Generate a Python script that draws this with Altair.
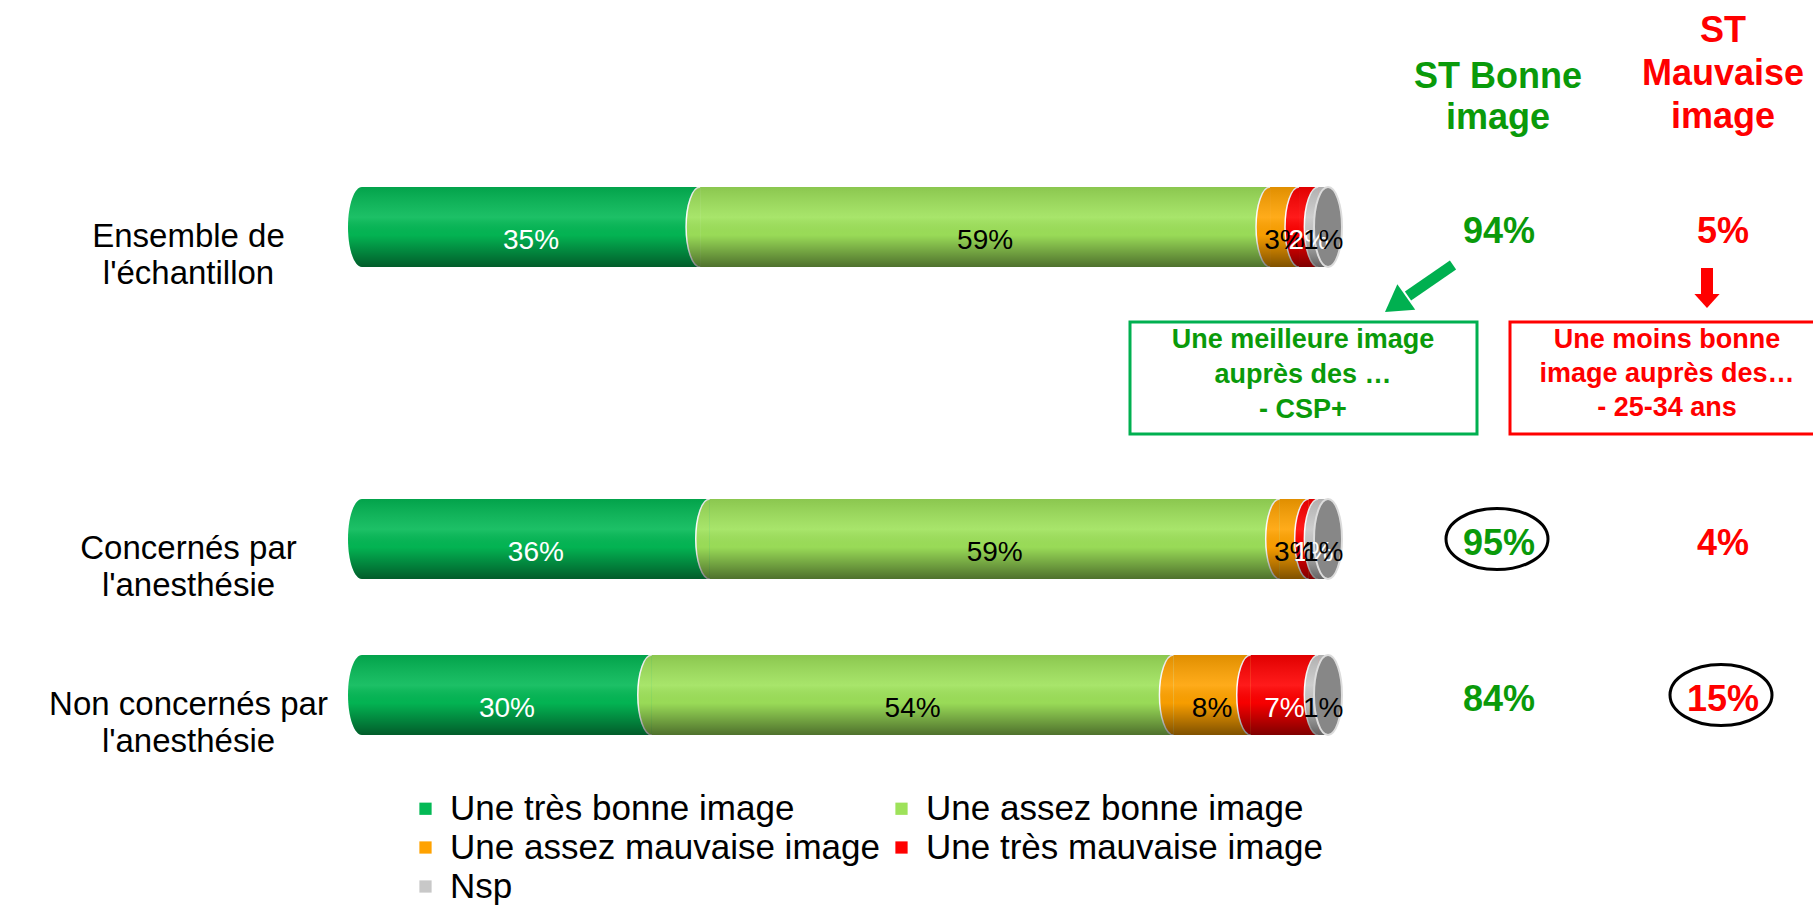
import altair as alt
import pandas as pd

# ---------------- data ----------------
rows = ["Ensemble de\nl'échantillon", "Concernés par\nl'anesthésie", "Non concernés par\nl'anesthésie"]
spacer = " "
row_domain = [rows[0], spacer, rows[1], rows[2]]

series = ["Une très bonne image", "Une assez bonne image", "Une assez mauvaise image",
          "Une très mauvaise image", "Nsp"]
tres_bonne = [35, 36, 30]
assez_bonne = [59, 59, 54]
assez_mauvaise = [3, 3, 8]
tres_mauvaise = [2, 1, 7]
nsp = [1, 1, 1]

st_bonne = [94, 95, 84]
st_mauvaise = [5, 4, 15]
circled_bonne = [False, True, False]
circled_mauvaise = [False, False, True]

header_bonne = "ST Bonne\nimage"
header_mauvaise = "ST\nMauvaise\nimage"
note_bonne = "Une meilleure image\nauprès des …\n- CSP+"
note_mauvaise = "Une moins bonne\nimage auprès des…\n- 25-34 ans"

# ---------------- styles ----------------
FONT = "Liberation Sans"
colors = ["#03b955", "#9ee25a", "#ffa200", "#ff0000", "#c8c8c8"]
GREEN_TXT = "#0a9a0a"
RED_TXT = "#ff0000"

series_values = [tres_bonne, assez_bonne, assez_mauvaise, tres_mauvaise, nsp]
recs = []
for i, r in enumerate(rows):
    for j, s in enumerate(series):
        recs.append({"row": r, "series": s, "order": j, "value": series_values[j][i]})
df = pd.DataFrame(recs)

st_df = pd.DataFrame({"row": rows, "bonne": st_bonne, "mauvaise": st_mauvaise,
                      "circ_b": circled_bonne, "circ_m": circled_mauvaise})
ann_df = pd.DataFrame({"hb": [header_bonne], "hm": [header_mauvaise],
                       "nb": [note_bonne], "nm": [note_mauvaise]})

xscale = alt.Scale(domain=[0, 100], range=[0, 966])
yscale = alt.Scale(domain=row_domain, paddingInner=0.487, paddingOuter=0.2435)
yaxis = alt.Axis(domain=False, ticks=False, tickSize=0, grid=False, labelPadding=174,
                 labelAlign="center", labelOffset=10, labelFont=FONT, labelFontSize=33,
                 labelLineHeight=37, labelColor="black", labelLimit=0,
                 labelExpr="split(datum.label, '\\n')")
Y = alt.Y("row:N", scale=yscale, axis=yaxis, title=None)


def X(f):
    return alt.X(f, type="quantitative", scale=xscale, axis=None)


shade = alt.LinearGradient(gradient="linear", x1=0, y1=0, x2=0, y2=1, stops=[
    alt.GradientStop(offset=0, color="rgba(0,0,0,0.12)"),
    alt.GradientStop(offset=0.38, color="rgba(255,255,255,0.10)"),
    alt.GradientStop(offset=0.6, color="rgba(0,0,0,0.03)"),
    alt.GradientStop(offset=1, color="rgba(0,0,0,0.50)"),
])

HALF = "M0,-1 A0.35,1 0 0,0 0,1"
FULL = "M0,-1 A0.35,1 0 1,1 0,1 A0.35,1 0 1,1 0,-1 Z"
OVAL = "M-1,0 A1,0.6 0 1,1 1,0 A1,0.6 0 1,1 -1,0 Z"
HEAD = "M0,0 L-0.6,1 L0.6,1 Z"
HEAD_W = "M0,0 L-0.9,1 L0.9,1 Z"

base = (alt.Chart(df)
        .transform_window(x_end="sum(value)", groupby=["row"], sort=[alt.SortField("order")])
        .transform_calculate(x_start="datum.x_end - datum.value",
                             x_mid="datum.x_end - datum.value / 2",
                             lbl="datum.value + '%'"))

color_scale = alt.Scale(domain=series, range=colors)

bars = base.mark_bar(strokeWidth=0).encode(
    x=X("x_start"), x2="x_end:Q", y=Y,
    color=alt.Color("series:N", scale=color_scale,
                    legend=alt.Legend(title=None, orient="none", legendX=46, legendY=642,
                                      direction="horizontal", columns=2, padding=0,
                                      symbolType="square", symbolSize=150,
                                      symbolStrokeWidth=0, labelFont=FONT, labelFontSize=35,
                                      labelColor="black", rowPadding=3, columnPadding=4,
                                      labelOffset=7, labelLimit=0)),
)

bulges = base.mark_point(shape=HALF, size=6400, filled=True, opacity=1,
                         stroke="white", strokeWidth=1.5).encode(
    x=X("x_start"), y=Y,
    fill=alt.Fill("series:N", scale=color_scale, legend=None),
    strokeOpacity=alt.condition("datum.order == 0", alt.value(0), alt.value(1)),
)

totals = base.transform_aggregate(total="sum(value)", groupby=["row"])

overlay = totals.mark_bar(fill=shade, strokeWidth=0).encode(x=X("total"), y=Y)

overlay_left = base.transform_filter("datum.order == 0").mark_point(
    shape=HALF, size=6400, filled=True, opacity=1, fill=shade, strokeWidth=0
).encode(x=X("x_start"), y=Y)

cap = totals.mark_point(shape=FULL, size=6400, filled=True, opacity=1,
                        fill="#878787", stroke="#dcdcdc", strokeWidth=2).encode(
    x=X("total"), y=Y)

labels = base.mark_text(font=FONT, fontSize=28, dy=14).encode(
    x=X("x_mid"), y=Y, text="lbl:N",
    color=alt.condition(alt.FieldOneOfPredicate(field="series", oneOf=[series[0], series[3]]),
                        alt.value("white"), alt.value("black")),
)

st_b = alt.Chart(st_df).transform_calculate(t="datum.bonne + '%'").mark_text(
    font=FONT, fontSize=36, fontWeight="bold", color=GREEN_TXT, dy=5
).encode(x=alt.value(1137), y=Y, text="t:N")

st_m = alt.Chart(st_df).transform_calculate(t="datum.mauvaise + '%'").mark_text(
    font=FONT, fontSize=36, fontWeight="bold", color=RED_TXT, dy=5
).encode(x=alt.value(1361), y=Y, text="t:N")

circ_b = alt.Chart(st_df).transform_filter("datum.circ_b").mark_point(
    shape=OVAL, size=10404, filled=False, stroke="black", strokeWidth=3, opacity=1
).encode(x=alt.value(1135), y=Y)

circ_m = alt.Chart(st_df).transform_filter("datum.circ_m").mark_point(
    shape=OVAL, size=10404, filled=False, stroke="black", strokeWidth=3, opacity=1
).encode(x=alt.value(1359), y=Y)

ann = alt.Chart(ann_df)
head_b = ann.mark_text(font=FONT, fontSize=36, fontWeight="bold", color=GREEN_TXT,
                       lineBreak="\n", lineHeight=41, align="center", baseline="middle"
                       ).encode(x=alt.value(1136), y=alt.value(-72), text="hb:N")
head_m = ann.mark_text(font=FONT, fontSize=36, fontWeight="bold", color=RED_TXT,
                       lineBreak="\n", lineHeight=43, align="center", baseline="middle"
                       ).encode(x=alt.value(1361), y=alt.value(-118), text="hm:N")

box_b = ann.mark_rect(fill="transparent", stroke="#00b050", strokeWidth=3).encode(
    x=alt.value(768), x2=alt.value(1115), y=alt.value(173), y2=alt.value(285))
box_m = ann.mark_rect(fill="transparent", stroke="#ff0000", strokeWidth=3).encode(
    x=alt.value(1148), x2=alt.value(1470), y=alt.value(173), y2=alt.value(285))

note_b = ann.mark_text(font=FONT, fontSize=27, fontWeight="bold", color=GREEN_TXT,
                       lineBreak="\n", lineHeight=35, align="center", baseline="middle"
                       ).encode(x=alt.value(941), y=alt.value(191), text="nb:N")
note_m = ann.mark_text(font=FONT, fontSize=27, fontWeight="bold", color=RED_TXT,
                       lineBreak="\n", lineHeight=34, align="center", baseline="middle"
                       ).encode(x=alt.value(1305), y=alt.value(191), text="nm:N")

arrow_b_shaft = ann.mark_rule(color="#00b050", strokeWidth=11).encode(
    x=alt.value(1091), y=alt.value(116), x2=alt.value(1046), y2=alt.value(147))
arrow_b_head = ann.mark_point(shape=HEAD, size=2704, filled=True, opacity=1,
                              color="#00b050", angle=235).encode(
    x=alt.value(1023), y=alt.value(163))
arrow_m_shaft = ann.mark_rule(color="#ff0000", strokeWidth=12).encode(
    x=alt.value(1345), y=alt.value(119), x2=alt.value(1345), y2=alt.value(146))
arrow_m_head = ann.mark_point(shape=HEAD_W, size=784, filled=True, opacity=1,
                              color="#ff0000", angle=180).encode(
    x=alt.value(1345), y=alt.value(159))

chart = alt.layer(
    bars, bulges, overlay, overlay_left, cap, labels,
    st_b, st_m, circ_b, circ_m, head_b, head_m, box_b, box_m, note_b, note_m,
    arrow_b_shaft, arrow_b_head, arrow_m_shaft, arrow_m_head,
).properties(
    width=1451, height=624,
    padding={"left": 362, "top": 149, "right": 0, "bottom": 133},
    autosize=alt.AutoSizeParams(type="none"),
    background="white",
).configure_view(strokeWidth=0)

chart.save("out.html", embed_options={"renderer": "svg", "actions": False})
